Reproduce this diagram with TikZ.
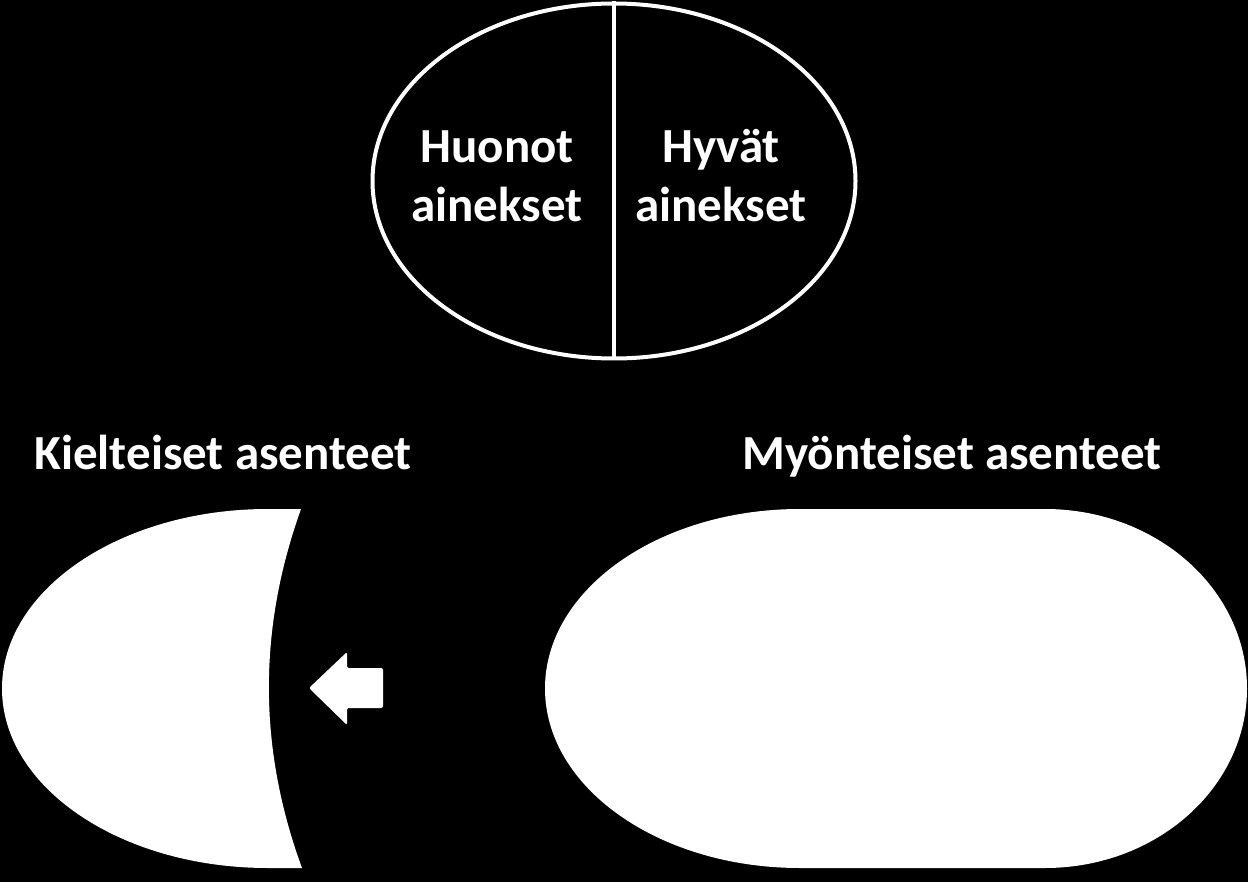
\documentclass[tikz,border=0pt]{standalone}
\usepackage{fontspec}
\setmainfont{Carlito}
\usetikzlibrary{shapes.geometric}
\tikzset{
  lbl/.style={text=white,inner sep=0pt,anchor=base,font=\bfseries\fontsize{49}{56}\selectfont},
  rim/.style={draw=white,line width=4pt}
}
\begin{document}
\begin{tikzpicture}[x=1pt,y=-1pt]
  \fill[black] (0,0) rectangle (1248,882);
  \useasboundingbox (0,0) rectangle (1248,882);
  \node[rim,ellipse,minimum width=483pt,minimum height=355pt,inner sep=0pt] (pot) at (614,181) {};
  \draw[rim] (pot.north) -- (pot.south);
  \node[lbl] (bad1) at (497,163) {Huonot};
  \node[lbl] (bad2) at (497,222) {ainekset};
  \node[lbl] (good1) at (721,163) {Hyvät};
  \node[lbl] (good2) at (721,222) {ainekset};
  \node[lbl] (neg) at (223,470) {Kielteiset asenteet};
  \node[lbl] (pos) at (952,470) {Myönteiset asenteet};
  \fill[white] (268,509) -- (301,509) .. controls (258,629) and (258,748) .. (302,868)
    -- (268,868) arc[start angle=90,end angle=270,x radius=266,y radius=179.5] -- cycle;
  \fill[white] (800,509) -- (1045,509) arc[start angle=270,end angle=450,x radius=202,y radius=179.5]
    -- (800,868) arc[start angle=90,end angle=270,x radius=255,y radius=179.5] -- cycle;
  \fill[white,rounded corners=2pt] (383,668) -- (347,668) -- (347,652) -- (309,688)
    -- (347,725) -- (347,708) -- (383,708) -- cycle;
\end{tikzpicture}
\end{document}
